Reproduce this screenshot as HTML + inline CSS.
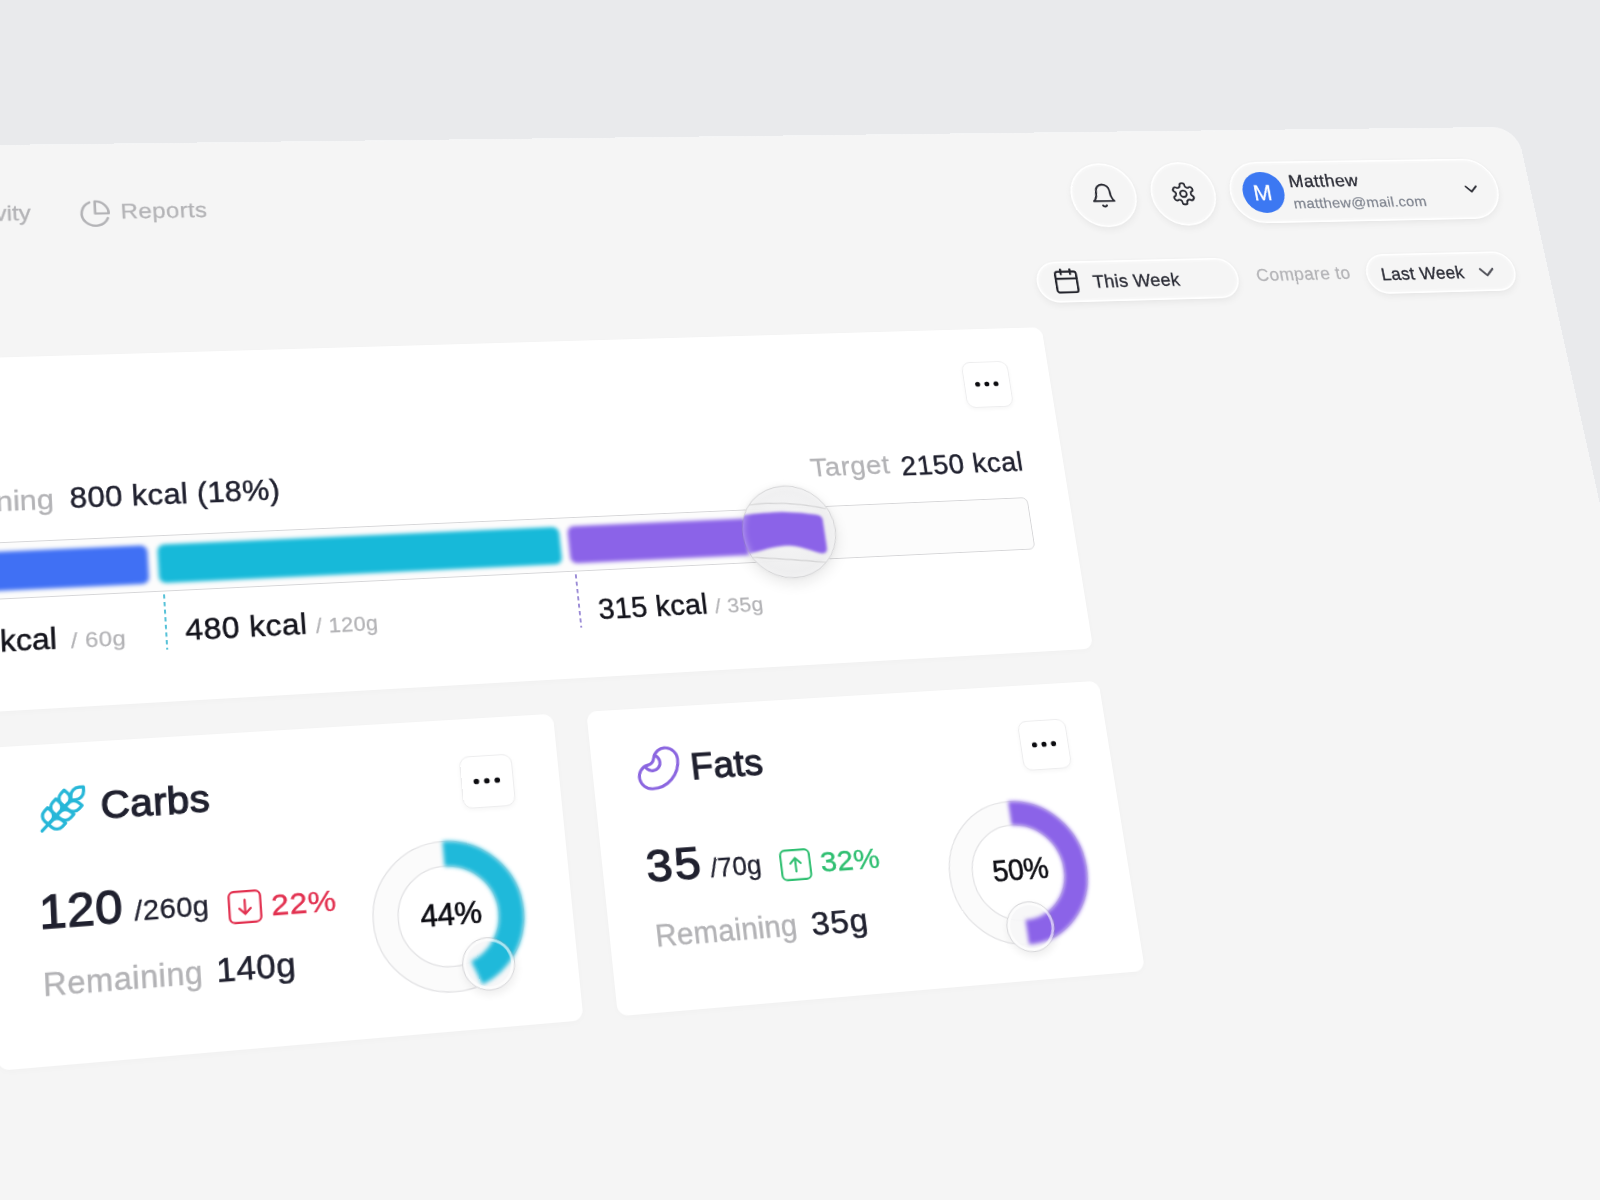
<!DOCTYPE html>
<html lang="en"><head><meta charset="utf-8"><title>Nutrition dashboard</title>
<style>
html,body{margin:0;padding:0;}
body{width:1600px;height:1200px;overflow:hidden;background:#e9eaec;position:relative;font-family:"Liberation Sans", Arial, sans-serif;}
#stage{position:absolute;left:0;top:0;width:1900px;height:2200px;transform-origin:0 0;transform:matrix3d(0.9880986147,-0.0003174614023,0,7.936535058e-05,0.03648353757,0.8575172887,0,-0.0001027705284,0,0,1,0,-132.7834122,147.3294328,0,1);}
#stage div,#stage .abs,#stage .t{position:absolute;}
.t{white-space:nowrap;display:block;}
</style></head><body>
<div id="stage">
<div class="" style="left:-700.0px;top:0.0px;width:2600.0px;height:2200.0px;background:#f5f5f5;border-top-right-radius:31px;box-shadow:0 0 0 1px rgba(255,255,255,.5);"></div>
<svg class="abs" style="left:212.0px;top:63.2px;" width="33.5" height="33.5" viewBox="0 0 24 24" fill="none" stroke="#b3b3b6" stroke-width="1.9" stroke-linecap="round" stroke-linejoin="round"><path d="M21.21 15.89A10 10 0 1 1 8 2.830"/><path d="M22 12A10 10 0 0 0 12 2v10z"/></svg>
<div class="" style="left:1319.8px;top:39.0px;width:80.0px;height:80.0px;background:#f5f5f5;border:2.8px solid #fff;box-sizing:border-box;box-shadow:0 4px 9px rgba(0,0,0,.05),0 0 3px rgba(0,0,0,.03),inset 0 0 5px rgba(255,255,255,.7);border-radius:50%;"></div>
<div class="" style="left:1418.4px;top:39.0px;width:80.0px;height:80.0px;background:#f5f5f5;border:2.8px solid #fff;box-sizing:border-box;box-shadow:0 4px 9px rgba(0,0,0,.05),0 0 3px rgba(0,0,0,.03),inset 0 0 5px rgba(255,255,255,.7);border-radius:50%;"></div>
<svg class="abs" style="left:1343.3px;top:63.0px;" width="33" height="33" viewBox="0 0 24 24" fill="none" stroke="#2a2b33" stroke-width="1.75" stroke-linecap="round" stroke-linejoin="round"><path d="M6 8a6 6 0 0 1 12 0c0 7 3 9 3 9H3s3-2 3-9"/><path d="M10.300 21a1.940 1.940 0 0 0 3.400 0"/></svg>
<svg class="abs" style="left:1442.4px;top:63.3px;" width="32" height="32" viewBox="0 0 24 24" fill="none" stroke="#2a2b33" stroke-width="1.75" stroke-linecap="round" stroke-linejoin="round"><path d="M12.220 2h-.44a2 2 0 0 0-2 2v.18a2 2 0 0 1-1 1.730l-.43.250a2 2 0 0 1-2 0l-.15-.08a2 2 0 0 0-2.730.730l-.22.380a2 2 0 0 0 .73 2.730l.15.100a2 2 0 0 1 1 1.720v.510a2 2 0 0 1-1 1.740l-.15.090a2 2 0 0 0-.73 2.730l.22.380a2 2 0 0 0 2.730.730l.15-.08a2 2 0 0 1 2 0l.43.250a2 2 0 0 1 1 1.730V20a2 2 0 0 0 2 2h.44a2 2 0 0 0 2-2v-.18a2 2 0 0 1 1-1.730l.43-.25a2 2 0 0 1 2 0l.15.080a2 2 0 0 0 2.730-.73l.22-.39a2 2 0 0 0-.73-2.730l-.15-.08a2 2 0 0 1-1-1.740v-.5a2 2 0 0 1 1-1.740l.15-.09a2 2 0 0 0 .73-2.730l-.22-.38a2 2 0 0 0-2.730-.73l-.15.080a2 2 0 0 1-2 0l-.43-.25a2 2 0 0 1-1-1.730V4a2 2 0 0 0-2-2z"/><circle cx="12" cy="12" r="3"/></svg>
<div class="" style="left:1516.2px;top:39.5px;width:342.4px;height:78.5px;background:#f5f5f5;border:2.8px solid #fff;box-sizing:border-box;box-shadow:0 4px 9px rgba(0,0,0,.05),0 0 3px rgba(0,0,0,.03),inset 0 0 5px rgba(255,255,255,.7);border-radius:40px;"></div>
<div class="" style="left:1531.9px;top:52.7px;width:52.6px;height:52.6px;background:#3c78f2;border-radius:50%;"></div>
<svg class="abs" style="left:1814.8px;top:73.8px" width="17.5" height="10.75" viewBox="-2 -2 17.5 10.75" fill="none" stroke="#2a2b33" stroke-width="2.4" stroke-linecap="round" stroke-linejoin="round"><path d="M0 0L6.75 6.75L13.5 0"/></svg>
<div class="" style="left:1261.5px;top:159.7px;width:245.5px;height:50.3px;background:#f5f5f5;border:2.8px solid #fff;box-sizing:border-box;box-shadow:0 4px 9px rgba(0,0,0,.05),0 0 3px rgba(0,0,0,.03),inset 0 0 5px rgba(255,255,255,.7);border-radius:26px;"></div>
<svg class="abs" style="left:1281.0px;top:167.4px;" width="33.5" height="33.5" viewBox="0 0 24 24" fill="none" stroke="#23242c" stroke-width="1.8" stroke-linecap="round" stroke-linejoin="round"><path d="M8 2v4"/><path d="M16 2v4"/><rect width="18" height="18" x="3" y="4" rx="2"/><path d="M3 10h18"/></svg>
<div class="" style="left:1666.9px;top:160.0px;width:191.6px;height:49.7px;background:#f5f5f5;border:2.8px solid #fff;box-sizing:border-box;box-shadow:0 4px 9px rgba(0,0,0,.05),0 0 3px rgba(0,0,0,.03),inset 0 0 5px rgba(255,255,255,.7);border-radius:26px;"></div>
<svg class="abs" style="left:1811.4px;top:179.5px" width="20" height="12.0" viewBox="-2 -2 20 12.0" fill="none" stroke="#55565e" stroke-width="2.6" stroke-linecap="round" stroke-linejoin="round"><path d="M0 0L8.0 8.0L16 0"/></svg>
<div class="" style="left:-700.0px;top:239.3px;width:1959.2px;height:373.4px;background:#fff;border-radius:11px;box-shadow:0 2px 6px rgba(0,0,0,.02);"></div>
<div class="" style="left:1158.0px;top:277.8px;width:54.0px;height:54.0px;background:#fff;border:1.5px solid #ededee;box-sizing:border-box;border-radius:10px;box-shadow:0 2px 5px rgba(0,0,0,.04);"><svg width="51" height="51" viewBox="1.5 1.5 51 51" style="display:block"><circle cx="16.3" cy="27.0" r="2.85" fill="#0c0c10"/><circle cx="27.0" cy="27.0" r="2.85" fill="#0c0c10"/><circle cx="37.7" cy="27.0" r="2.85" fill="#0c0c10"/></svg></div>
<div class="" style="left:-700.0px;top:438.0px;width:1911.0px;height:59.5px;background:#fcfcfc;border:1.4px solid #d6d6d8;box-sizing:border-box;border-radius:7px;"></div>
<div class="" style="left:885.0px;top:413.0px;width:104.0px;height:104.0px;border-radius:50%;background:radial-gradient(circle at 50% 45%,rgba(246,246,247,.96) 0%,rgba(238,238,239,.95) 60%,rgba(230,230,232,.95) 100%);box-shadow:0 6px 16px rgba(0,0,0,.09),0 0 4px rgba(0,0,0,.05);"></div>
<div class="" style="left:-700.0px;top:447.5px;width:963.0px;height:41.0px;background:#4070f4;border-radius:7px;filter:blur(2.3px);"></div>
<div class="" style="left:273.0px;top:447.5px;width:414.5px;height:41.0px;background:#17b9d9;border-radius:7px;filter:blur(2.3px);"></div>
<div class="" style="left:697.0px;top:447.5px;width:193.0px;height:41.0px;background:#8b63e8;border-radius:7px 0 0 7px;filter:blur(2.3px);"></div>
<svg class="abs" style="left:885.0px;top:413.0px" width="104" height="104" viewBox="-52 -52 104 104" fill="none"><defs><clipPath id="lc"><circle cx="0" cy="0" r="51"/></clipPath></defs><g clip-path="url(#lc)"><path d="M-46 -31.5Q0 -36 44 -24" stroke="rgba(0,0,0,.11)" stroke-width="1.3"/><path d="M-46 26.5Q0 31 42 37" stroke="rgba(0,0,0,.11)" stroke-width="1.3"/><path d="M-56 -20.500C-30 -22 -10 -23 0 -22C15 -21 28 -18.500 33 -17.500Q39 -16.500 39 -11L39.500 20Q39.500 26.500 33 26C24 24 10 15.500 -6 15.500C-25 16 -38 22 -56 23.600Z" fill="#8b63e8" style="filter:blur(1.8px)"/></g></svg>
<div class="" style="left:885.0px;top:413.0px;width:104.0px;height:104.0px;border-radius:50%;border:1.4px solid rgba(130,130,136,.26);box-sizing:border-box;box-shadow:inset 0 0 8px rgba(255,255,255,.5);"></div>
<svg class="abs" style="left:273.5px;top:501px" width="6" height="58"><line x1="3" y1="0" x2="3" y2="58" stroke="#3bb8d2" stroke-width="1.7" stroke-dasharray="4.5 3.5"/></svg>
<svg class="abs" style="left:698.0px;top:500.5px" width="6" height="58"><line x1="3" y1="0" x2="3" y2="58" stroke="#8a78cf" stroke-width="1.7" stroke-dasharray="4.5 3.5"/></svg>
<div class="" style="left:96.5px;top:649.3px;width:565.0px;height:313.5px;background:#fff;border-radius:11px;box-shadow:0 2px 6px rgba(0,0,0,.02);"></div>
<div class="" style="left:697.3px;top:649.3px;width:561.9px;height:312.5px;background:#fff;border-radius:11px;box-shadow:0 2px 6px rgba(0,0,0,.02);"></div>
<svg class="abs" style="left:143.2px;top:689.9px;" width="49.5" height="49.5" viewBox="0 0 24 24" fill="none" stroke="#27b7d8" stroke-width="1.5" stroke-linecap="round" stroke-linejoin="round"><path d="M2 22 16 8"/><path d="M3.470 12.530 5 11l1.530 1.530a3.500 3.500 0 0 1 0 4.940L5 19l-1.530-1.530a3.500 3.500 0 0 1 0-4.940Z"/><path d="M7.470 8.530 9 7l1.530 1.530a3.500 3.500 0 0 1 0 4.940L9 15l-1.530-1.530a3.500 3.500 0 0 1 0-4.940Z"/><path d="M11.470 4.530 13 3l1.530 1.530a3.500 3.500 0 0 1 0 4.940L13 11l-1.530-1.530a3.500 3.500 0 0 1 0-4.940Z"/><path d="M20 2h2v2a4 4 0 0 1-4 4h-2V6a4 4 0 0 1 4-4Z"/><path d="M11.470 17.470 13 19l-1.530 1.530a3.500 3.500 0 0 1-4.940 0L5 19l1.530-1.530a3.500 3.500 0 0 1 4.940 0Z"/><path d="M15.470 13.470 17 15l-1.530 1.530a3.500 3.500 0 0 1-4.940 0L9 15l1.530-1.530a3.500 3.500 0 0 1 4.940 0Z"/><path d="M19.470 9.470 21 11l-1.530 1.530a3.500 3.500 0 0 1-4.940 0L13 11l1.530-1.530a3.500 3.500 0 0 1 4.940 0Z"/></svg>
<div class="" style="left:560.6px;top:688.0px;width:54.0px;height:54.0px;background:#fff;border:1.5px solid #ededee;box-sizing:border-box;border-radius:10px;box-shadow:0 2px 5px rgba(0,0,0,.04);"><svg width="51" height="51" viewBox="1.5 1.5 51 51" style="display:block"><circle cx="16.3" cy="27.0" r="2.85" fill="#0c0c10"/><circle cx="27.0" cy="27.0" r="2.85" fill="#0c0c10"/><circle cx="37.7" cy="27.0" r="2.85" fill="#0c0c10"/></svg></div>
<svg class="abs" style="left:321.1px;top:808.3px" width="33" height="33" viewBox="0 0 33 33" fill="none" stroke="#e23150" stroke-width="2.2" stroke-linecap="round" stroke-linejoin="round"><rect x="1.2" y="1.2" width="30.6" height="30.6" rx="5"/><path d="M16.5 9.500V23M11 18l5.500 5.500 5.500-5.500"/></svg>
<svg class="abs" style="left:451.7px;top:764.0px" width="170" height="170" viewBox="0 0 170 170" fill="none"><circle cx="85.0" cy="85.0" r="62.9" stroke="#e3e3e5" stroke-width="26.2"/><circle cx="85.0" cy="85.0" r="62.9" stroke="#fbfbfb" stroke-width="23.599999999999998"/></svg>
<div class="" style="left:545.9px;top:873.3px;width:53.0px;height:53.0px;border-radius:50%;background:rgba(246,246,247,.9);box-shadow:1px 4px 8px rgba(0,0,0,.07);"></div>
<svg class="abs" style="left:451.7px;top:764.0px" width="170" height="170" viewBox="0 0 170 170" fill="none"><circle cx="85.0" cy="85.0" r="62.9" stroke="#1fb9da" stroke-width="25.7" stroke-dasharray="173.89 395.21" transform="rotate(-90 85.0 85.0)" style="filter:blur(2px)"/></svg>
<div class="" style="left:545.9px;top:873.3px;width:53.0px;height:53.0px;border-radius:50%;border:1.2px solid rgba(150,150,155,.36);box-sizing:border-box;box-shadow:inset 0 0 0 3px rgba(255,255,255,.62);"></div>
<svg class="abs" style="left:1051.9px;top:763.5px" width="170" height="170" viewBox="0 0 170 170" fill="none"><circle cx="85.0" cy="85.0" r="62.9" stroke="#e3e3e5" stroke-width="26.2"/><circle cx="85.0" cy="85.0" r="62.9" stroke="#fbfbfb" stroke-width="23.599999999999998"/></svg>
<div class="" style="left:1114.7px;top:880.3px;width:53.0px;height:53.0px;border-radius:50%;background:rgba(246,246,247,.9);box-shadow:1px 4px 8px rgba(0,0,0,.07);"></div>
<svg class="abs" style="left:1051.9px;top:763.5px" width="170" height="170" viewBox="0 0 170 170" fill="none"><circle cx="85.0" cy="85.0" r="62.9" stroke="#8b63e8" stroke-width="25.7" stroke-dasharray="197.61 395.21" transform="rotate(-90 85.0 85.0)" style="filter:blur(2px)"/></svg>
<div class="" style="left:1114.7px;top:880.3px;width:53.0px;height:53.0px;border-radius:50%;border:1.2px solid rgba(150,150,155,.36);box-sizing:border-box;box-shadow:inset 0 0 0 3px rgba(255,255,255,.62);"></div>
<svg class="abs" style="left:740.8px;top:688.1px;" width="50.5" height="50.5" viewBox="0 0 24 24" fill="none" stroke="#8b66e0" stroke-width="1.5" stroke-linecap="round" stroke-linejoin="round"><path d="M10.165 6.598C9.954 7.478 9.640 8.360 9 9c-.64.640-1.521.954-2.402 1.165A6 6 0 0 0 8 22c7.732 0 14-6.268 14-14a6 6 0 0 0-11.835-1.402Z"/><path d="M5.341 10.620a4 4 0 1 0 5.279-5.279"/></svg>
<div class="" style="left:1159.8px;top:688.0px;width:54.0px;height:54.0px;background:#fff;border:1.5px solid #ededee;box-sizing:border-box;border-radius:10px;box-shadow:0 2px 5px rgba(0,0,0,.04);"><svg width="51" height="51" viewBox="1.5 1.5 51 51" style="display:block"><circle cx="16.3" cy="27.0" r="2.85" fill="#0c0c10"/><circle cx="27.0" cy="27.0" r="2.85" fill="#0c0c10"/><circle cx="37.7" cy="27.0" r="2.85" fill="#0c0c10"/></svg></div>
<svg class="abs" style="left:881.6px;top:807.0px" width="33" height="33" viewBox="0 0 33 33" fill="none" stroke="#2fbf71" stroke-width="2.2" stroke-linecap="round" stroke-linejoin="round"><rect x="1.2" y="1.2" width="30.6" height="30.6" rx="5"/><path d="M16.5 23.500V10M11 15l5.500-5.500 5.500 5.500"/></svg>
<span class="t" style="top:65.56px;font-size:24.5px;line-height:24.5px;color:#b3b3b6;font-weight:400;letter-spacing:0.000px;-webkit-text-stroke:0.35px #b3b3b6;left:-237.20px;width:400px;text-align:right;">Activity</span>
<span class="t" style="top:65.56px;font-size:24.5px;line-height:24.5px;color:#b3b3b6;font-weight:400;letter-spacing:0.401px;-webkit-text-stroke:0.35px #b3b3b6;transform:scaleX(1.0194);transform-origin:0 50%;left:254.72px;">Reports</span>
<span class="t" style="top:65.50px;font-size:28.0px;line-height:28.0px;color:#fff;font-weight:400;letter-spacing:0.000px;-webkit-text-stroke:0.3px #fff;left:1545.10px;">M</span>
<span class="t" style="top:55.38px;font-size:22.0px;line-height:22.0px;color:#2a2b35;font-weight:400;letter-spacing:0.558px;-webkit-text-stroke:0.4px #2a2b35;transform:scaleX(1.0159);transform-origin:0 50%;left:1592.00px;">Matthew</span>
<span class="t" style="top:86.10px;font-size:17.6px;line-height:17.6px;color:#7c818c;font-weight:400;letter-spacing:0.285px;-webkit-text-stroke:0.25px #7c818c;transform:scaleX(1.0651);transform-origin:0 50%;left:1593.18px;">matthew@mail.com</span>
<span class="t" style="top:175.38px;font-size:22.0px;line-height:22.0px;color:#2a2b35;font-weight:400;letter-spacing:0.225px;-webkit-text-stroke:0.35px #2a2b35;left:1329.20px;">This Week</span>
<span class="t" style="top:172.80px;font-size:21.5px;line-height:21.5px;color:#b3b3b6;font-weight:400;letter-spacing:0.533px;-webkit-text-stroke:0.3px #b3b3b6;left:1529.60px;">Compare to</span>
<span class="t" style="top:175.38px;font-size:22.0px;line-height:22.0px;color:#2a2b35;font-weight:400;letter-spacing:0.250px;-webkit-text-stroke:0.35px #2a2b35;left:1685.70px;">Last Week</span>
<span class="t" style="top:379.85px;font-size:30.3px;line-height:30.3px;color:#b3b3b6;font-weight:400;letter-spacing:0.000px;-webkit-text-stroke:0.35px #b3b3b6;left:-227.20px;width:400px;text-align:right;">Remaining</span>
<span class="t" style="top:379.26px;font-size:31.0px;line-height:31.0px;color:#20212f;font-weight:400;letter-spacing:0.385px;-webkit-text-stroke:0.5px #20212f;left:188.50px;">800 kcal (18%)</span>
<span class="t" style="top:379.15px;font-size:30.3px;line-height:30.3px;color:#b3b3b6;font-weight:400;letter-spacing:0.597px;-webkit-text-stroke:0.35px #b3b3b6;transform:scaleX(1.0212);transform-origin:0 50%;left:969.52px;">Target</span>
<span class="t" style="top:381.36px;font-size:31.0px;line-height:31.0px;color:#20212f;font-weight:400;letter-spacing:0.602px;-webkit-text-stroke:0.5px #20212f;transform:scaleX(1.0179);transform-origin:0 50%;left:1071.75px;">2150 kcal</span>
<span class="t" style="top:526.26px;font-size:31.0px;line-height:31.0px;color:#14141c;font-weight:400;letter-spacing:0.000px;-webkit-text-stroke:0.5px #14141c;left:-230.50px;width:400px;text-align:right;">240 kcal</span>
<span class="t" style="top:534.38px;font-size:22.0px;line-height:22.0px;color:#b3b3b6;font-weight:400;letter-spacing:0.449px;-webkit-text-stroke:0.3px #b3b3b6;transform:scaleX(1.0578);transform-origin:0 50%;left:183.25px;">/ 60g</span>
<span class="t" style="top:524.26px;font-size:31.0px;line-height:31.0px;color:#14141c;font-weight:400;letter-spacing:0.487px;-webkit-text-stroke:0.5px #14141c;transform:scaleX(1.0267);transform-origin:0 50%;left:295.95px;">480 kcal</span>
<span class="t" style="top:532.38px;font-size:22.0px;line-height:22.0px;color:#b3b3b6;font-weight:400;letter-spacing:0.400px;-webkit-text-stroke:0.3px #b3b3b6;left:427.10px;">/ 120g</span>
<span class="t" style="top:524.76px;font-size:31.0px;line-height:31.0px;color:#14141c;font-weight:400;letter-spacing:0.229px;-webkit-text-stroke:0.5px #14141c;left:721.00px;">315 kcal</span>
<span class="t" style="top:532.88px;font-size:22.0px;line-height:22.0px;color:#b3b3b6;font-weight:400;letter-spacing:0.360px;-webkit-text-stroke:0.3px #b3b3b6;transform:scaleX(1.0417);transform-origin:0 50%;left:845.65px;">/ 35g</span>
<span class="t" style="top:693.59px;font-size:39.0px;line-height:39.0px;color:#20212f;font-weight:400;letter-spacing:0.400px;-webkit-text-stroke:1.25px #20212f;left:204.00px;">Carbs</span>
<span class="t" style="top:791.55px;font-size:46.6px;line-height:46.6px;color:#20212f;font-weight:400;letter-spacing:0.600px;-webkit-text-stroke:1.3px #20212f;left:141.10px;">120</span>
<span class="t" style="top:807.48px;font-size:27.2px;line-height:27.2px;color:#20212f;font-weight:400;letter-spacing:0.413px;-webkit-text-stroke:0.3px #20212f;transform:scaleX(1.0282);transform-origin:0 50%;left:231.25px;">/260g</span>
<span class="t" style="top:808.57px;font-size:30.4px;line-height:30.4px;color:#e23150;font-weight:400;letter-spacing:0.511px;-webkit-text-stroke:0.35px #e23150;transform:scaleX(1.0270);transform-origin:0 50%;left:363.33px;">22%</span>
<span class="t" style="top:870.30px;font-size:30.6px;line-height:30.6px;color:#b3b3b6;font-weight:400;letter-spacing:0.600px;-webkit-text-stroke:0.4px #b3b3b6;left:141.80px;">Remaining</span>
<span class="t" style="top:867.57px;font-size:33.0px;line-height:33.0px;color:#20212f;font-weight:400;letter-spacing:0.456px;-webkit-text-stroke:0.5px #20212f;transform:scaleX(1.0243);transform-origin:0 50%;left:306.35px;">140g</span>
<span class="t" style="top:831.76px;font-size:31.0px;line-height:31.0px;color:#0e0e14;font-weight:400;letter-spacing:-0.200px;-webkit-text-stroke:0.6px #0e0e14;left:508.70px;">44%</span>
<span class="t" style="top:831.26px;font-size:31.0px;line-height:31.0px;color:#0e0e14;font-weight:400;letter-spacing:-0.200px;-webkit-text-stroke:0.6px #0e0e14;left:1108.70px;">50%</span>
<span class="t" style="top:693.79px;font-size:39.0px;line-height:39.0px;color:#20212f;font-weight:400;letter-spacing:0.333px;-webkit-text-stroke:1.25px #20212f;left:800.00px;">Fats</span>
<span class="t" style="top:790.55px;font-size:46.6px;line-height:46.6px;color:#20212f;font-weight:400;letter-spacing:2.186px;-webkit-text-stroke:1.3px #20212f;transform:scaleX(1.0521);transform-origin:0 50%;left:742.35px;">35</span>
<span class="t" style="top:806.78px;font-size:27.2px;line-height:27.2px;color:#20212f;font-weight:400;letter-spacing:0.200px;-webkit-text-stroke:0.3px #20212f;left:808.60px;">/70g</span>
<span class="t" style="top:807.27px;font-size:30.4px;line-height:30.4px;color:#2fbf71;font-weight:400;letter-spacing:0.266px;-webkit-text-stroke:0.35px #2fbf71;transform:scaleX(1.0353);transform-origin:0 50%;left:924.52px;">32%</span>
<span class="t" style="top:870.10px;font-size:30.6px;line-height:30.6px;color:#b3b3b6;font-weight:400;letter-spacing:0.200px;-webkit-text-stroke:0.4px #b3b3b6;left:743.80px;">Remaining</span>
<span class="t" style="top:868.57px;font-size:33.0px;line-height:33.0px;color:#20212f;font-weight:400;letter-spacing:0.800px;-webkit-text-stroke:0.5px #20212f;transform:scaleX(1.0624);transform-origin:0 50%;left:907.15px;">35g</span>
</div>
</body></html>
